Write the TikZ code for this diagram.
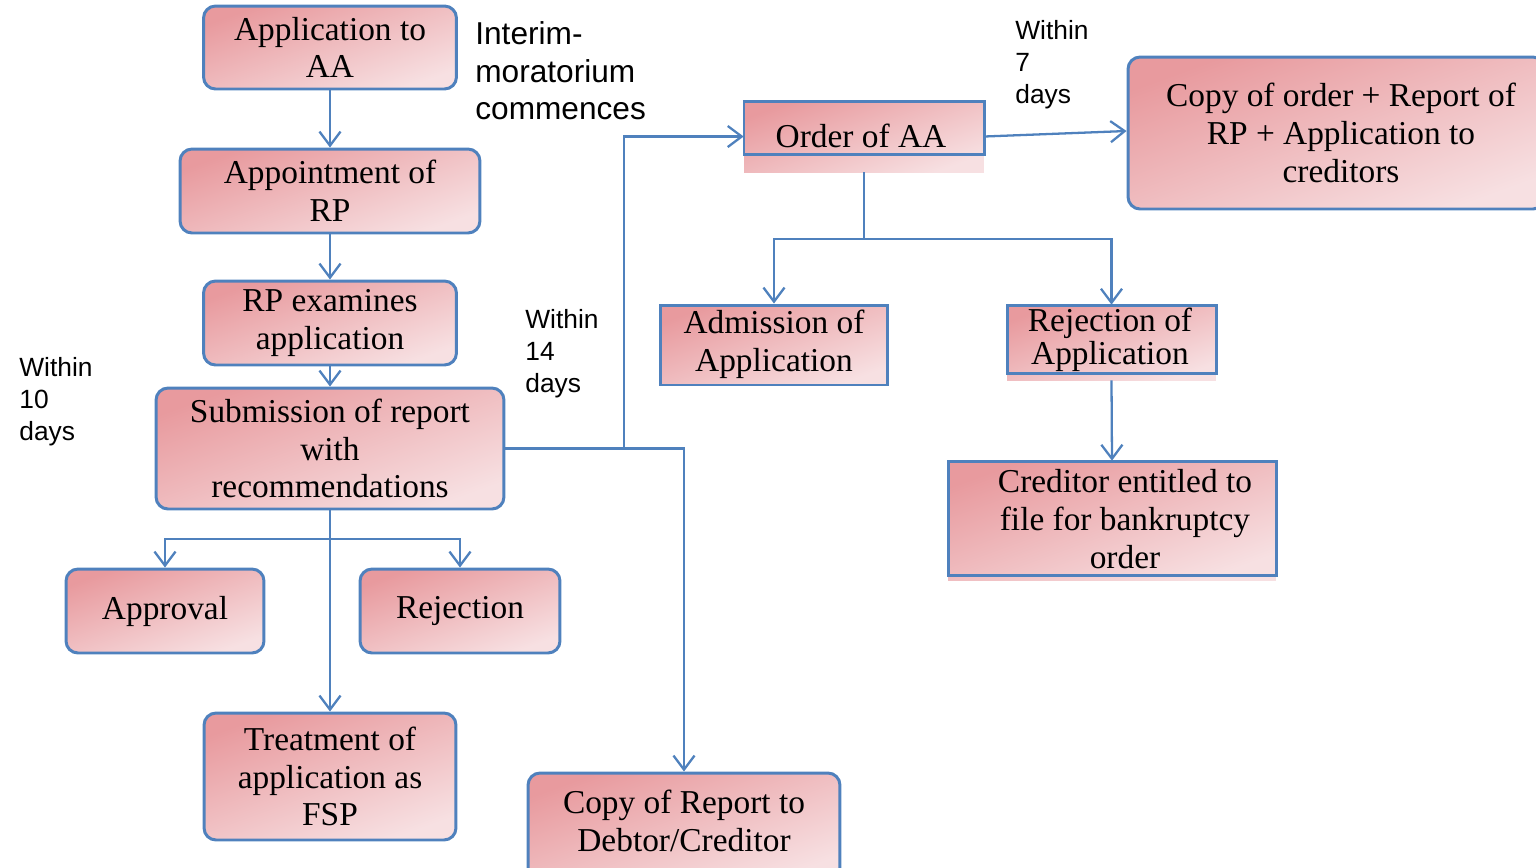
\documentclass[tikz,border=0pt]{standalone}
\usepackage{fontspec}
\setmainfont{Liberation Serif}
\newfontfamily\labelfont{Liberation Sans}
\usetikzlibrary{arrows.meta,calc}
\definecolor{edgeblue}{HTML}{4F81BD}
\definecolor{pinkdark}{HTML}{E89A9E}
\definecolor{pinklight}{HTML}{F7E0E2}
\begin{document}
\begin{tikzpicture}[x=0.02cm,y=-0.02cm,
  pinkfill/.style={top color=pinkdark, bottom color=pinklight, shading angle=20},
  boxfont/.style={font=\fontsize{19}{21.5}\selectfont},
  rbox/.style={pinkfill, draw=edgeblue, line width=1.7pt, rounded corners=0.24cm,
    inner sep=0pt, align=center, boxfont},
  fbox/.style={pinkfill, inner sep=0pt},
  boxtext/.style={inner sep=0pt, align=center, boxfont},
  frame/.style={draw=edgeblue, line width=1.7pt},
  arr/.style={draw=edgeblue, line width=1.3pt, -{Straight Barb[length=8pt,width=12pt,line width=1.3pt]}},
  link/.style={draw=edgeblue, line width=1.3pt},
  note/.style={anchor=north west, align=left, inner sep=0pt, font=\labelfont\fontsize{15}{18.1}\selectfont},
  bignote/.style={anchor=north west, align=left, inner sep=0pt, font=\labelfont\fontsize{18}{21.5}\selectfont}]
\clip (0,0) rectangle (1536,867);

% left column
\node[rbox, minimum width=5.06cm, minimum height=1.66cm] (app) at (330,47.5) {Application to\\AA};
\node[rbox, minimum width=6.0cm, minimum height=1.68cm] (rp) at (330,191) {Appointment of\\RP};
\node[rbox, minimum width=5.06cm, minimum height=1.68cm] (exam) at (330,323) {RP examines\\application};
\node[rbox, minimum width=6.96cm, minimum height=2.42cm] (sub) at (330,448.5) {Submission of report\\with\\recommendations};
\node[rbox, minimum width=3.96cm, minimum height=1.68cm] (appr) at (165,611) {Approval};
\node[rbox, minimum width=4.0cm, minimum height=1.68cm] (rej) at (460,611) {Rejection};
\node[rbox, minimum width=5.04cm, minimum height=2.54cm] (fsp) at (330,776.5) {Treatment of\\application as\\FSP};
\node[rbox, minimum width=6.24cm, minimum height=2.14cm] (crep) at (684,826.5) {};
\node[boxtext] (crep-t) at (684,821) {Copy of Report to\\Debtor/Creditor};

% right part
\node[fbox, minimum width=4.8cm, minimum height=1.42cm] (order) at (864,136.5) {};
\draw[frame] (744,101) rectangle (984,154);
\node[boxtext] (order-t) at (861,136) {Order of AA};
\node[rbox, minimum width=8.34cm, minimum height=3.04cm] (cord) at (1336.5,133) {};
\node[boxtext] (cord-t) at (1341,133) {Copy of order + Report of\\RP + Application to\\creditors};
\node[fbox, minimum width=4.56cm, minimum height=1.6cm, draw=edgeblue, line width=1.7pt] (adm) at (774,345) {};
\node[boxtext] (adm-t) at (774,344) {Admission of\\Application};
\node[fbox, minimum width=4.18cm, minimum height=1.5cm] (rjapp) at (1111.5,342.5) {};
\draw[frame] (1007,305) rectangle (1216,373);
\node[boxtext, font=\fontsize{19}{18.7}\selectfont] (rjapp-t) at (1110,340) {Rejection of\\Application};
\node[fbox, minimum width=6.56cm, minimum height=2.38cm] (cred) at (1112,520.5) {};
\draw[frame] (948,461) rectangle (1276,575);
\node[boxtext] (cred-t) at (1125,519) {Creditor entitled to\\file for bankruptcy\\order};

% labels
\node[bignote] (moratorium) at (475,21) {Interim-\\moratorium\\commences};
\node[note] (w7) at (1015,20) {Within\\7\\days};
\node[note] (w14) at (525,309) {Within\\14\\days};
\node[note] (w10) at (19,357) {Within\\10\\days};

% connectors
\draw[arr] (app) -- (rp);
\draw[arr] (rp) -- (exam);
\draw[arr] (exam) -- (sub);
\draw[arr] (sub) -- (fsp);
\coordinate (split) at (330,539);
\draw[arr] (split) -| (appr.north);
\draw[arr] (split) -| (rej.north);
\draw[arr] (sub.east) -| (crep.north);
\coordinate (branch) at (624,448.5);
\draw[arr] (branch) |- (order.west);
\coordinate (osplit) at (864,239);
\draw[link] (order.south) -- (osplit);
\draw[arr] (osplit) -| (adm.north);
\draw[arr] (osplit) -| (rjapp.north);
\draw[arr] (order.east) -- ($(cord.west)+(0,-2)$);
\draw[arr] (rjapp.south) -- (cred.north);
\end{tikzpicture}
\end{document}
